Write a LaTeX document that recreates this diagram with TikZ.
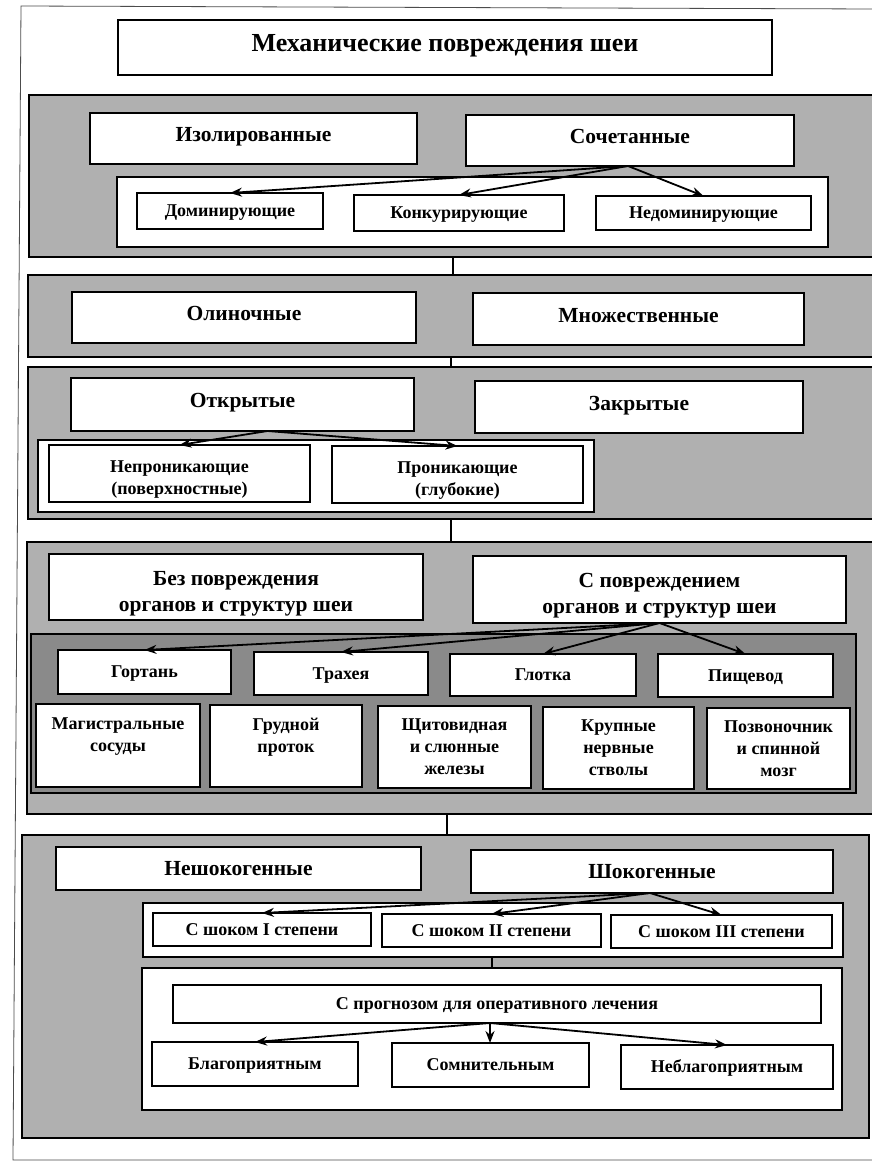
\documentclass[tikz,border=0pt]{standalone}
\usepackage{fontspec}
\setmainfont{Liberation Serif}
\usetikzlibrary{arrows.meta}
\tikzset{
 box/.style={draw=black, line width=1.6pt, fill=white, inner sep=0pt, outer sep=0pt, align=center, font=\bfseries\fontsize{18}{22}\selectfont},
 one/.style={text height=14pt, text depth=7.8pt},
 onec/.style={text height=16pt, text depth=1.8pt},
 sm/.style={text height=14pt, text depth=2.1pt},
 tt/.style={text height=18pt, text depth=9.8pt},
 band/.style={draw=black, line width=1.6pt, fill=black!31, inner sep=0pt, outer sep=0pt},
 darkband/.style={band, fill=black!46},
 holder/.style={draw=black, line width=1.6pt, fill=white, inner sep=0pt, outer sep=0pt},
 big/.style={font=\bfseries\fontsize{21.5}{26}\selectfont},
 ttl/.style={font=\bfseries\fontsize{26}{32}\selectfont},
 arr/.style={line width=1.8pt, -{Stealth[length=12pt,width=9pt]}},
 link/.style={line width=1.5pt},
 pageframe/.style={line width=0.8pt, draw=black!70}
}
\newcommand\R[7]{\node[#1, anchor=north west, minimum width={(#5)-(#3)}, minimum height={(#6)-(#4)}] (#2) at (#3,#4) {#7};}
\begin{document}
\begin{tikzpicture}[x=1pt,y=-1pt]
\useasboundingbox (0,0) rectangle (871,1162);
\fill[white] (0,0) rectangle (871,1162);
\draw[pageframe] (875,9) -- (21,6) -- (13,1160) -- (875,1160);

\R{box,ttl,tt}{title}{118}{20}{772}{75}{Механические повреждения шеи}

% band 1
\R{band}{b1}{29}{95}{878}{257}{}
\R{box,big,one}{iso}{90}{113}{417}{164}{Изолированные}
\R{box,big,one}{soch}{466}{115}{794}{166}{Сочетанные}
\R{holder}{c1}{117}{177}{828}{247}{}
\R{box,sm}{dom}{137}{193}{323}{229}{Доминирующие}
\R{box,sm}{konk}{354}{195}{564}{231}{Конкурирующие}
\R{box,sm}{nedom}{596}{196}{811}{230}{Недоминирующие}
\draw[arr] ([xshift=-2pt]soch.south) -- (dom.north);
\draw[arr] ([xshift=-2pt]soch.south) -- (konk.north);
\draw[arr] ([xshift=-2pt]soch.south) -- (nedom.north);

% band 2
\R{band}{b2}{28}{275}{878}{357}{}
\R{box,big,one}{odin}{72}{292}{416}{343}{Олиночные}
\R{box,big,one}{mnozh}{473}{293}{804}{345}{Множественные}

% band 3
\R{band}{b3}{28}{367}{878}{519}{}
\R{box,big,one}{otkr}{71}{378}{414}{431}{Открытые}
\R{box,big,one}{zakr}{475}{381}{803}{433}{Закрытые}
\R{holder}{c3}{38}{440}{594}{512}{}
\R{box}{nepr}{49}{445}{310}{502}{\rule{0pt}{24pt}Непроникающие\\(поверхностные)}
\R{box}{pron}{332}{446}{583}{503}{\rule{0pt}{24pt}Проникающие\\(глубокие)}
\draw[arr] ([xshift=25pt]otkr.south) -- (nepr.north);
\draw[arr] ([xshift=25pt]otkr.south) -- (pron.north);

% band 4
\R{band}{b4}{27}{542}{878}{814}{}
\R{box,big}{bez}{49}{554}{423}{620}{\rule{0pt}{28pt}Без повреждения\\органов и структур шеи}
\R{box,big}{spov}{473}{556}{846}{623}{\rule{0pt}{26pt}С повреждением\\органов и структур шеи}
\R{darkband}{c4}{31}{634}{856}{793}{}
\R{box,sm}{gort}{58}{650}{231}{694}{Гортань}
\R{box,sm}{trah}{254}{652}{428}{695}{Трахея}
\R{box,sm}{glot}{450}{654}{636}{696}{Глотка}
\R{box,sm}{pish}{658}{654}{833}{697}{Пищевод}
\R{box}{mag}{36}{704}{200}{787}{Магистральные\\сосуды\\~}
\R{box}{grud}{210}{705}{362}{787}{Грудной\\проток\\~}
\R{box}{shch}{378}{706}{531}{788}{Щитовидная\\и слюнные\\железы}
\R{box}{krup}{543}{707}{694}{789}{Крупные\\нервные\\стволы}
\R{box}{pozv}{707}{708}{850}{789}{Позвоночник\\и спинной\\мозг}
\draw[arr] (spov.south) -- (gort.north);
\draw[arr] (spov.south) -- (trah.north);
\draw[arr] (spov.south) -- (glot.north);
\draw[arr] (spov.south) -- (pish.north);

% band 5
\R{band}{b5}{22}{835}{869}{1138}{}
\R{box,big,onec}{nesh}{56}{847}{421}{890}{Нешокогенные}
\R{box,big,onec}{shok}{471}{850}{833}{893}{Шокогенные}
\R{holder}{c5a}{143}{903}{843}{957}{}
\R{box,sm}{sh1}{153}{913}{371}{946}{С шоком I степени}
\R{box,sm}{sh2}{382}{914}{601}{947}{С шоком II степени}
\R{box,sm}{sh3}{611}{915}{832}{948}{С шоком III степени}
\R{holder}{c5b}{142}{968}{842}{1110}{}
\R{box,sm}{prog}{173}{985}{821}{1023}{С прогнозом для оперативного лечения}
\R{box,sm}{blag}{152}{1042}{358}{1086}{Благоприятным}
\R{box,sm}{somn}{392}{1043}{589}{1087}{Сомнительным}
\R{box,sm}{nebl}{621}{1045}{833}{1089}{Неблагоприятным}
\draw[arr] ([xshift=-2pt]shok.south) -- (sh1.north);
\draw[arr] ([xshift=-2pt]shok.south) -- (sh2.north);
\draw[arr] ([xshift=-2pt]shok.south) -- (sh3.north);
\draw[arr] ([xshift=-7pt]prog.south) -- (blag.north);
\draw[arr] ([xshift=-7pt]prog.south) -- (somn.north -| {(490,0)});
\draw[arr] ([xshift=-7pt]prog.south) -- (nebl.north);

% band links
\coordinate (x1) at (453,0);
\coordinate (x2) at (451,0);
\coordinate (x4) at (447,0);
\coordinate (x5) at (492,0);
\draw[link] (b1.south -| x1) -- (b2.north -| x1);
\draw[link] (b2.south -| x2) -- (b3.north -| x2);
\draw[link] (b3.south -| x2) -- (b4.north -| x2);
\draw[link] (b4.south -| x4) -- (b5.north -| x4);
\draw[link] (c5a.south -| x5) -- (c5b.north -| x5);
\end{tikzpicture}
\end{document}
